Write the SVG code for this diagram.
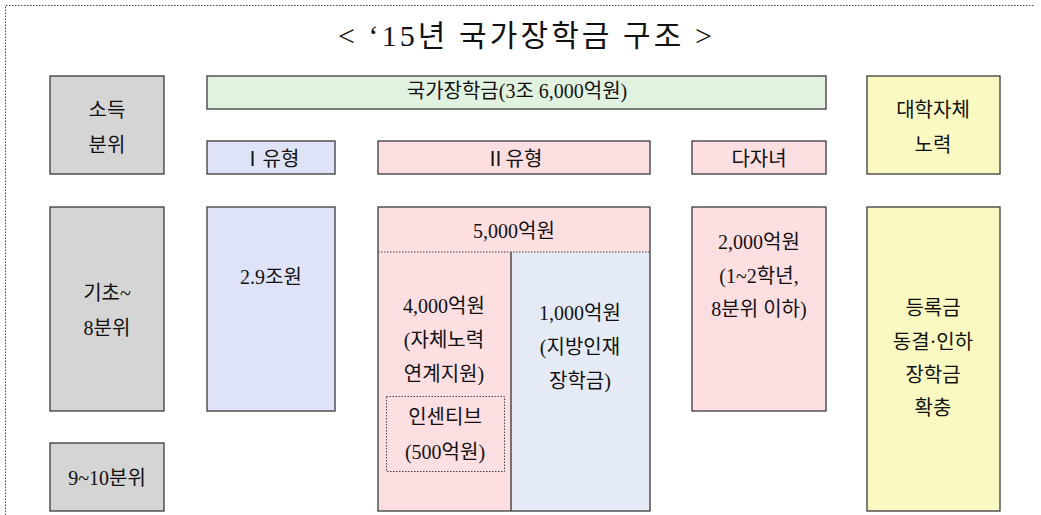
<svg xmlns="http://www.w3.org/2000/svg" width="1041" height="515" viewBox="0 0 1041 515">
<style>
.t{font-family:"Liberation Serif","Noto Sans CJK KR",serif;font-size:20px;fill:#111;text-anchor:middle}
.title{font-size:30px}
.b{stroke:#3a3a3a;stroke-width:1.3}
.gray{fill:#D5D5D5}.green{fill:#E2F2E1}.lav{fill:#DFE3F7}.pink{fill:#FDDEE1}.lblue{fill:#E4EBF6}.yel{fill:#FAF9C1}
.dot{fill:none;stroke:#444;stroke-width:1;stroke-dasharray:1.5 1.5}
</style>
<rect width="1041" height="515" fill="#fff"/>
<path class="dot" d="M5.5,515 V5.5 H1034"/>
<g id="title"><text class="t title" x="525" y="46" textLength="374" lengthAdjust="spacing">&lt; ‘15년  국가장학금  구조 &gt;</text></g>
<g id="income"><rect class="b gray" x="50" y="76" width="114" height="98"/><text class="t" x="107" y="117">소득</text><text class="t" x="107" y="152">분위</text></g>
<g id="total"><rect class="b green" x="207" y="76" width="619" height="33"/><text class="t" x="517" y="98">국가장학금(3조 6,000억원)</text></g>
<g id="type1"><rect class="b lav" x="207" y="141" width="128" height="33"/><text class="t" x="271" y="166">Ⅰ유형</text></g>
<g id="type2"><rect class="b pink" x="378" y="141" width="272" height="33"/><text class="t" x="514" y="166">Ⅱ유형</text></g>
<g id="multi"><rect class="b pink" x="692" y="141" width="134" height="33"/><text class="t" x="759" y="166">다자녀</text></g>
<g id="univ"><rect class="b yel" x="867" y="76" width="133" height="98"/><text class="t" x="933" y="117">대학자체</text><text class="t" x="933" y="152">노력</text></g>
<g id="low"><rect class="b gray" x="50" y="207" width="114" height="204"/><text class="t" x="107" y="300">기초~</text><text class="t" x="107" y="335">8분위</text></g>
<g id="high"><rect class="b gray" x="50" y="443" width="114" height="68"/><text class="t" x="107" y="485">9~10분위</text></g>
<g id="t1amt"><rect class="b lav" x="207" y="207" width="128" height="204"/><text class="t" x="271" y="284">2.9조원</text></g>
<g id="t2amt">
<rect class="pink" x="378" y="207" width="272" height="304"/>
<rect class="lblue" x="511" y="252" width="139" height="259"/>
<line x1="378" y1="252" x2="650" y2="252" class="dot"/>
<line x1="511" y1="252" x2="511" y2="511" stroke="#222" stroke-width="1.2"/>
<rect class="b" fill="none" x="378" y="207" width="272" height="304"/>
<text class="t" x="514" y="238">5,000억원</text>
</g>
<g id="self"><text class="t" x="444" y="313">4,000억원</text><text class="t" x="444" y="347">(자체노력</text><text class="t" x="444" y="381">연계지원)</text></g>
<g id="incentive"><rect class="dot" x="386.5" y="396.5" width="118" height="75"/><text class="t" x="445" y="424">인센티브</text><text class="t" x="445" y="459">(500억원)</text></g>
<g id="local"><text class="t" x="580" y="320">1,000억원</text><text class="t" x="580" y="354">(지방인재</text><text class="t" x="580" y="388">장학금)</text></g>
<g id="multiamt"><rect class="b pink" x="692" y="207" width="134" height="204"/><text class="t" x="759" y="249">2,000억원</text><text class="t" x="759" y="283">(1~2학년,</text><text class="t" x="759" y="316">8분위 이하)</text></g>
<g id="tuition"><rect class="b yel" x="867" y="207" width="133" height="304"/><text class="t" x="933" y="315">등록금</text><text class="t" x="933" y="349">동결·인하</text><text class="t" x="933" y="382">장학금</text><text class="t" x="933" y="415">확충</text></g>
<g id="connectors"></g>
</svg>
